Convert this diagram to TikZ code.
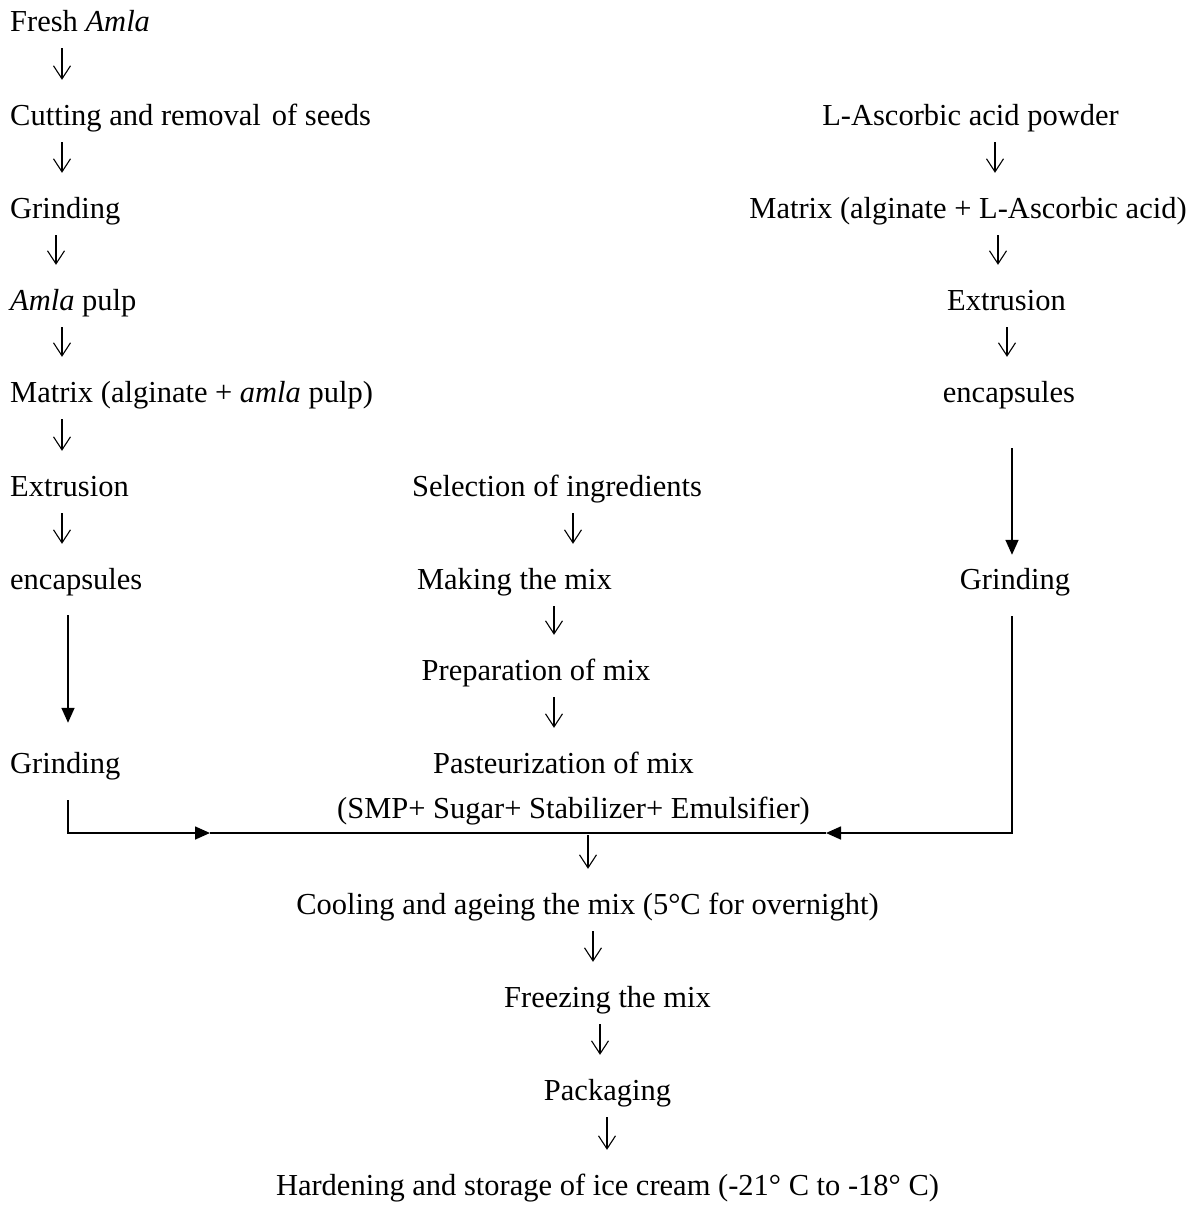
\documentclass[tikz,border=0pt]{standalone}
\usepackage{fontspec}
\setmainfont{Liberation Serif}
\usetikzlibrary{arrows.meta}
\tikzset{ %
  ,every node/.style={font=\fontsize{30.5}{36}\selectfont, inner sep=0, text height=21pt, text depth=7pt}
  ,lstep/.style={anchor=base west}
  ,cstep/.style={anchor=base}
  ,flow/.style={-{Straight Barb[length=13pt,width=17pt]}, line width=1.1pt, shorten <=10pt, shorten >=24pt}
  ,feed/.style={-{Triangle[length=15pt,width=13pt]}, line width=1.6pt}
}
\begin{document}
\begin{tikzpicture}[x=1pt, y=-1pt]
  \useasboundingbox (0,0) rectangle (1198,1205);
  % amla branch
  \draw
  node[lstep] (fresh) at (10,31) {Fresh \textit{Amla}}
  node[lstep] (cut) at (10,125) {Cutting and removal\hspace{11pt}of seeds}
  node[lstep] (grind) at (10,218) {Grinding}
  node[lstep] (pulp) at (10,310) {\textit{Amla} pulp}
  node[lstep] (matrixL) at (10,402) {Matrix (alginate + \textit{amla} pulp)}
  node[lstep] (extrL) at (10,496) {Extrusion}
  node[lstep] (encL) at (10,589) {encapsules}
  node[lstep] (grindL) at (10,773) {Grinding};
  % ascorbic acid branch
  \draw
  node[cstep] (ascorbic) at (970.5,125) {L-Ascorbic acid powder}
  node[cstep] (matrixR) at (968,218) {Matrix (alginate + L-Ascorbic acid)}
  node[cstep] (extrR) at (1006.5,310) {Extrusion}
  node[cstep] (encR) at (1009,402) {encapsules}
  node[cstep] (grindR) at (1015,589) {Grinding};
  % ice cream line
  \draw
  node[cstep] (select) at (557,496) {Selection of ingredients}
  node[cstep] (making) at (514.5,589) {Making the mix}
  node[cstep] (prep) at (536,680) {Preparation of mix}
  node[cstep] (past) at (563.5,773) {Pasteurization of mix}
  node[cstep] (smp) at (573.5,818) {(SMP+ Sugar+ Stabilizer+ Emulsifier)}
  node[cstep] (cool) at (587.5,914) {Cooling and ageing the mix (5°C for overnight)}
  node[cstep] (freeze) at (607.5,1007) {Freezing the mix}
  node[cstep] (pack) at (607.5,1100) {Packaging}
  node[cstep] (harden) at (607.5,1195) {Hardening and storage of ice cream (-21° C to -18° C)};
  \path[flow]
    (62,0 |- fresh.south) edge (62,0 |- cut.north)
    (62,0 |- cut.south) edge (62,0 |- grind.north)
    (56,0 |- grind.south) edge (56,0 |- pulp.north)
    (62,0 |- pulp.south) edge (62,0 |- matrixL.north)
    (62,0 |- matrixL.south) edge (62,0 |- extrL.north)
    (62,0 |- extrL.south) edge (62,0 |- encL.north)
    (995,0 |- ascorbic.south) edge (995,0 |- matrixR.north)
    (998,0 |- matrixR.south) edge (998,0 |- extrR.north)
    (1007,0 |- extrR.south) edge (1007,0 |- encR.north)
    (573,0 |- select.south) edge (573,0 |- making.north)
    (554,0 |- making.south) edge (554,0 |- prep.north)
    (554,0 |- prep.south) edge (554,0 |- past.north)
    (588,0 |- smp.south) edge (588,0 |- cool.north)
    (593,0 |- cool.south) edge (593,0 |- freeze.north)
    (600,0 |- freeze.south) edge (600,0 |- pack.north)
    (607,0 |- pack.south) edge (607,0 |- harden.north);
  \draw[feed, shorten <=19pt, shorten >=29pt] (68,0 |- encL.south) -- (68,0 |- grindL.north);
  \draw[feed, shorten <=39pt, shorten >=13pt] (1012,0 |- encR.south) -- (1012,0 |- grindR.north);
  % joining the encapsules to the mix
  \coordinate (joinL) at (210,833);
  \coordinate (joinR) at (826,833);
  \draw[feed, shorten <=20pt] (68,0 |- grindL.south) |- (joinL);
  \draw[line width=1.6pt] (joinL) -- (joinR);
  \draw[feed, shorten <=20pt] (1012,0 |- grindR.south) |- (joinR);
\end{tikzpicture}
\end{document}
